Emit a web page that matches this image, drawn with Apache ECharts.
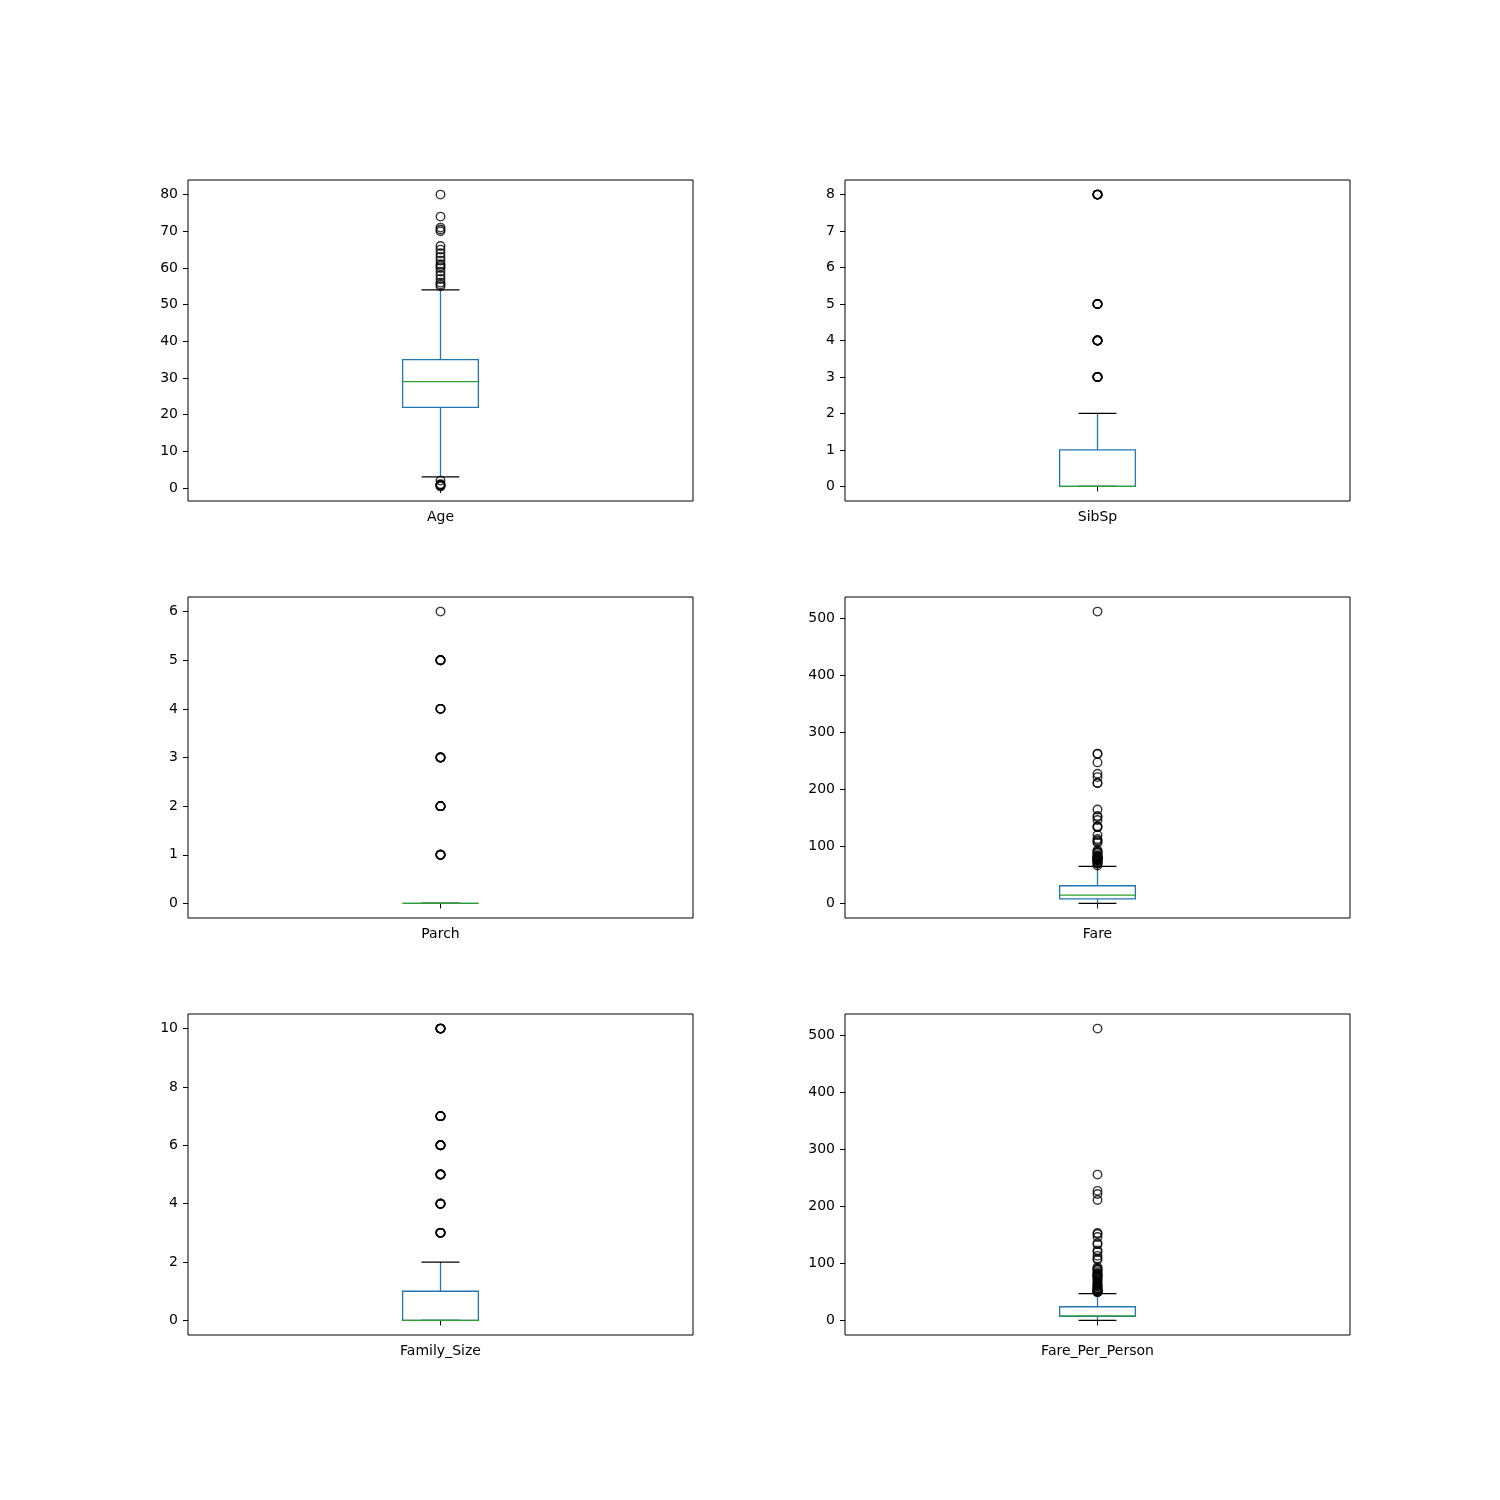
<!DOCTYPE html>
<html>
<head>
<meta charset="utf-8">
<script src="https://cdn.jsdelivr.net/npm/echarts@6/dist/echarts.min.js"></script>
<style>
  html, body { margin: 0; padding: 0; background: #fff; }
  #container { width: 1500px; height: 1500px; }
</style>
</head>
<body>
<div id="container"></div>
<script>
// one box per panel: [lower whisker, Q1, median, Q3, upper whisker]
let names = ['Age', 'SibSp', 'Parch', 'Fare', 'Family_Size', 'Fare_Per_Person'];

let ageBox = [3, 22, 29, 35, 54];
let sibspBox = [0, 0, 0, 1, 2];
let parchBox = [0, 0, 0, 0, 0];
let fareBox = [0, 7.91, 14.45, 31, 65];
let familyBox = [0, 0, 0, 1, 2];
let fppBox = [0, 7.25, 8.05, 24, 47];

// outliers (fliers)
let ageOut = [0.42, 0.67, 0.75, 0.83, 0.92, 1, 2, 55, 55.5, 56, 57, 58, 59, 60, 60.5, 61, 62, 63, 64, 65, 66, 70, 70.5, 71, 74, 80];
let sibspOut = [3, 4, 5, 8];
let parchOut = [1, 2, 3, 4, 5, 6];
let fareOut = [66.6, 69.55, 71, 71.28, 73.5, 75.25, 76.29, 76.73, 77.29, 77.96, 78.27, 78.85, 79.2, 79.65, 80,
  81.86, 82.17, 83.16, 83.48, 86.5, 89.1, 90, 91.08, 93.5, 106.43, 108.9, 110.88, 113.28, 120, 133.65, 134.5,
  135.63, 146.52, 151.55, 153.46, 164.87, 211.34, 211.5, 221.78, 227.53, 247.52, 262.38, 263, 512.33];
let familyOut = [3, 4, 5, 6, 7, 10];
let fppOut = [49.5, 50, 50.5, 51.86, 52, 52.55, 53.1, 55, 56.5, 57, 59.4, 61.2, 61.4, 63.36, 66.6, 69.3, 71.3,
  73.5, 76.3, 77.3, 78.85, 79.2, 80, 82.2, 83.2, 86.5, 89.1, 90, 91.1, 93.5, 106.4, 108.9, 113.3, 120, 123,
  133.65, 135.6, 146.5, 151.6, 153.5, 211.5, 221.8, 227.5, 256, 512.33];

// how many passengers share each integer outlier (stacked circles look bolder)
let sibspCount = [16, 18, 5, 7];
let parchCount = [118, 80, 5, 4, 5, 1];
let familyCount = [29, 15, 22, 12, 6, 7];

// y tick labels per panel
let ageTicks = [0, 10, 20, 30, 40, 50, 60, 70, 80];
let sibspTicks = [0, 1, 2, 3, 4, 5, 6, 7, 8];
let parchTicks = [0, 1, 2, 3, 4, 5, 6];
let fareTicks = [0, 100, 200, 300, 400, 500];
let familyTicks = [0, 2, 4, 6, 8, 10];
let fppTicks = [0, 100, 200, 300, 400, 500];

let repeat = (vals, counts) => {
  let res = [];
  vals.forEach((v, k) => {
    for (let n = 0; n < Math.min(counts[k], 6); n++) res.push(v);
  });
  return res;
};

let boxes = [ageBox, sibspBox, parchBox, fareBox, familyBox, fppBox];
let outs = [ageOut, repeat(sibspOut, sibspCount), repeat(parchOut, parchCount), fareOut,
  repeat(familyOut, familyCount), fppOut];
let ticks = [ageTicks, sibspTicks, parchTicks, fareTicks, familyTicks, fppTicks];

let font = 'DejaVu Sans';
let blue = '#1f77b4';
let green = '#2ca02c';

var myChart = echarts.init(document.getElementById('container'));

let grid = [], xAxis = [], yAxis = [], series = [];

names.forEach((name, i) => {
  let col = i % 2, row = Math.floor(i / 2);
  grid.push({
    left: col === 0 ? 188 : 845,
    top: 180 + row * 417,
    width: 505,
    height: 321,
    show: true,
    borderColor: '#000',
    borderWidth: 1,
  });

  // matplotlib style 5% margin on the data range
  let all = outs[i].concat(boxes[i]);
  let lo = Math.min(...all), hi = Math.max(...all);
  let pad = (hi - lo) * 0.05;

  xAxis.push({
    type: 'category',
    gridIndex: i,
    data: [name],
    axisLine: { show: false },
    axisTick: { show: true, alignWithLabel: true, length: 5, lineStyle: { color: '#000' } },
    axisLabel: { color: '#000', fontFamily: font, fontSize: 14, margin: 9 },
    splitLine: { show: false },
  });
  yAxis.push({
    type: 'value',
    gridIndex: i,
    min: lo - pad,
    max: hi + pad,
    axisLine: { show: false },
    axisTick: { show: true, length: 5, customValues: ticks[i], lineStyle: { color: '#000' } },
    axisLabel: { color: '#000', fontFamily: font, fontSize: 14, margin: 10, customValues: ticks[i] },
    splitLine: { show: false },
  });

  series.push({
    type: 'custom',
    xAxisIndex: i,
    yAxisIndex: i,
    data: [[0].concat(boxes[i])],
    renderItem: function (params, api) {
      let band = api.size([1, 0])[0];
      let w = band * 0.15;
      let cx = api.coord([0, api.value(3)])[0];
      let y = (k) => api.coord([0, api.value(k)])[1];
      let yLo = y(1), yQ1 = y(2), yMed = y(3), yQ3 = y(4), yHi = y(5);
      let line = (x1, y1, x2, y2, c) => ({
        type: 'line',
        shape: { x1: x1, y1: y1, x2: x2, y2: y2 },
        style: { stroke: c, lineWidth: 1.3 },
      });
      return {
        type: 'group',
        children: [
          line(cx, yQ3, cx, yHi, blue),
          line(cx, yQ1, cx, yLo, blue),
          line(cx - w / 4, yHi, cx + w / 4, yHi, '#000'),
          line(cx - w / 4, yLo, cx + w / 4, yLo, '#000'),
          {
            type: 'rect',
            shape: { x: cx - w / 2, y: yQ3, width: w, height: yQ1 - yQ3 },
            style: { fill: 'none', stroke: blue, lineWidth: 1.3 },
          },
          line(cx - w / 2, yMed, cx + w / 2, yMed, green),
        ],
      };
    },
  });

  series.push({
    type: 'scatter',
    xAxisIndex: i,
    yAxisIndex: i,
    symbol: 'circle',
    symbolSize: 8.5,
    itemStyle: { color: 'rgba(0,0,0,0)', borderColor: '#000', borderWidth: 1.4 },
    data: outs[i].map((v) => [0, v]),
    silent: true,
  });
});

option = {
  backgroundColor: '#fff',
  animation: false,
  grid: grid,
  xAxis: xAxis,
  yAxis: yAxis,
  series: series,
};

myChart.setOption(option);
</script>
</body>
</html>
